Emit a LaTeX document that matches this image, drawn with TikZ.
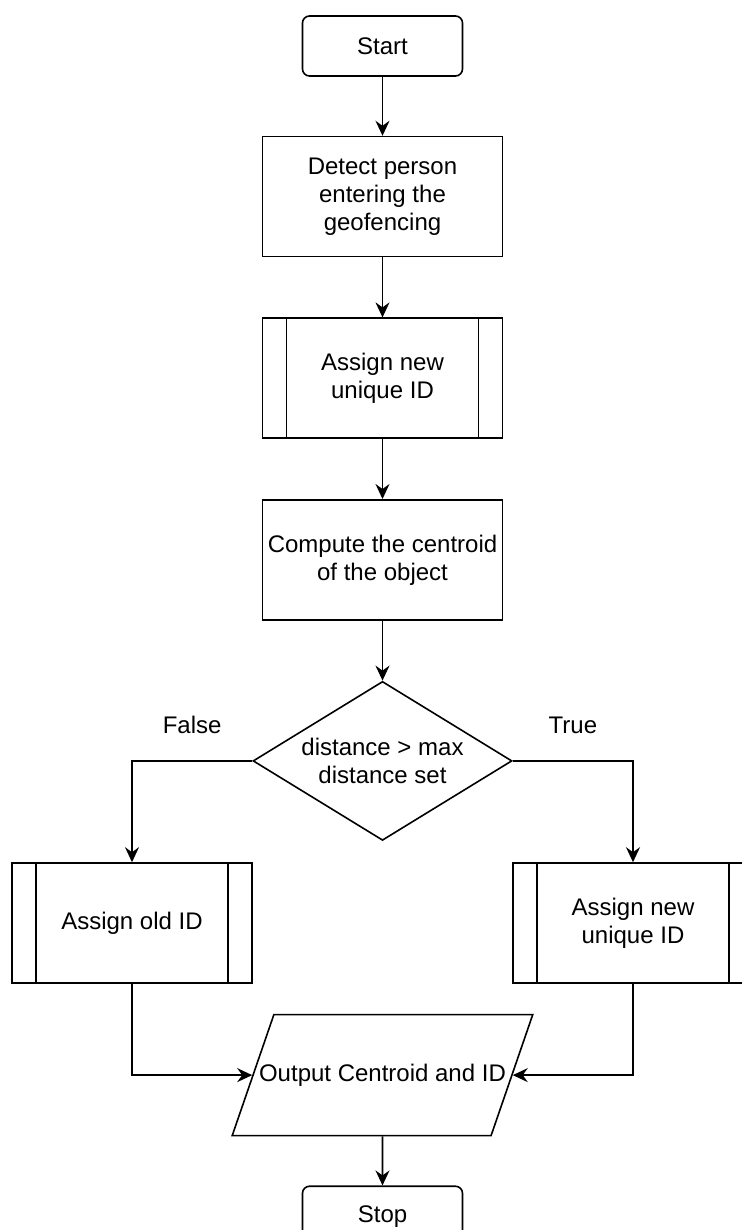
\documentclass[tikz,border=0pt]{standalone}
\usepackage{fontspec}
\setmainfont{Liberation Sans}
\usetikzlibrary{
  arrows.meta,
  positioning,
  shapes.geometric
}
\tikzset{
  arr/.style={-{Stealth[length=7.5pt, width=7pt, inset=2.5pt]}, line width=0.8pt},
}

\begin{document}
\begin{tikzpicture}[
  fnode/.style={draw, line width=0.8pt, align=center, inner sep=0pt,
    font=\fontsize{12}{14}\selectfont},
  term/.style={fnode, rounded corners=3.5pt,
    minimum width=80pt, minimum height=30pt},
  proc/.style={fnode, minimum width=120pt, minimum height=60pt},
  subproc/.style={proc, path picture={
    \draw[line width=0.8pt]
      ([xshift=12pt]path picture bounding box.north west) --
      ([xshift=12pt]path picture bounding box.south west)
      ([xshift=-12pt]path picture bounding box.north east) --
      ([xshift=-12pt]path picture bounding box.south east);}},
  decide/.style={fnode, diamond, aspect=1.63,
    minimum width=129.5pt, minimum height=79.5pt},
  iobox/.style={fnode, trapezium, trapezium left angle=71,
    trapezium right angle=109, text height=8.5pt, text depth=2.5pt,
    inner xsep=-7.4pt, inner ysep=24.75pt},
  lbl/.style={font=\fontsize{12}{14}\selectfont, inner sep=0pt},
  node distance=30pt
]
  \useasboundingbox (0,0) rectangle (371pt,-615pt);

  % Main column
  \node[term] (start) at (191.25pt,-23pt) {Start};
  \node[proc, below=29.5pt of start] (detect) {Detect person\\entering the\\geofencing};
  \node[subproc, below=of detect] (assign) {Assign new\\unique ID};
  \node[proc, below=of assign] (centroid) {Compute the centroid\\of the object};
  \node[decide, below=of centroid] (dec) {distance > max\\distance set};

  % Branches
  \node[subproc, below=10.5pt of dec, xshift=-125.25pt] (oldid) {Assign old ID};
  \node[subproc, below=10.5pt of dec, xshift=125.25pt] (newid) {Assign new\\unique ID};

  % Output
  \node[iobox, below=15pt of oldid, xshift=125.25pt] (out) {Output Centroid and ID};
  \node[term, below=24.5pt of out] (stop) {Stop};

  % Arrows
  \draw[arr] (start) -- (detect);
  \draw[arr] (detect) -- (assign);
  \draw[arr] (assign) -- (centroid);
  \draw[arr] (centroid) -- (dec);
  \draw[arr] (dec.west) -| node[lbl, pos=0.25, above=13pt] (lfalse) {False} (oldid.north);
  \draw[arr] (dec.east) -| node[lbl, pos=0.25, above=13pt] (ltrue) {True} (newid.north);
  \draw[arr] (oldid.south) |- (out.west);
  \draw[arr] (newid.south) |- (out.east);
  \draw[arr] (out) -- (stop);
\end{tikzpicture}
\end{document}
